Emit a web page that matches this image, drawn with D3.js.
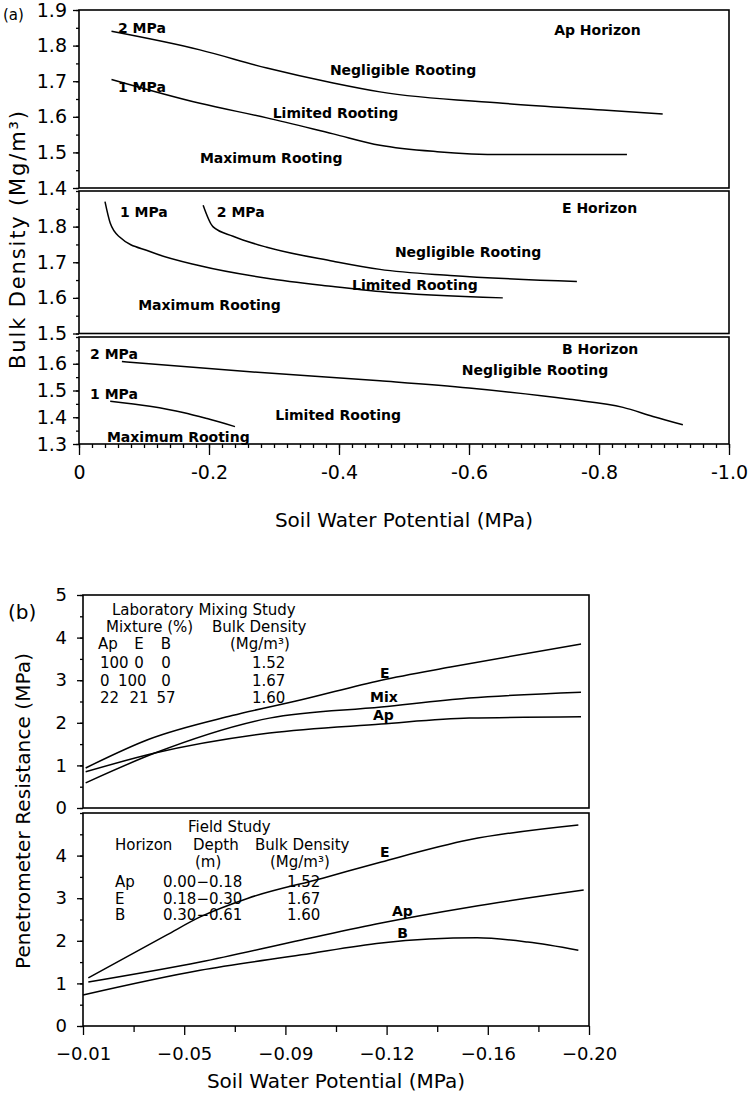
<!DOCTYPE html>
<html>
<head>
<meta charset="utf-8">
<script src="https://cdn.jsdelivr.net/npm/d3@7"></script>
<style>
  body { margin: 0; background: #fff; }
  svg text { font-family: "DejaVu Sans", sans-serif; fill: #000; }
</style>
</head>
<body>
<svg id="chart" width="754" height="1094"></svg>
<script>
// ---- values ----
// (a) bulk density (Mg/m3) at which penetrometer resistance reaches 1 / 2 MPa, vs soil water potential (MPa)
const apLimit2MPa = [[-0.05, 1.84], [-0.186, 1.788], [-0.289, 1.737], [-0.391, 1.695], [-0.463, 1.670], [-0.652, 1.638], [-0.806, 1.619], [-0.898, 1.608]];
const apLimit1MPa = [[-0.05, 1.705], [-0.186, 1.638], [-0.289, 1.597], [-0.391, 1.552], [-0.463, 1.520], [-0.551, 1.502], [-0.652, 1.494], [-0.843, 1.494]];
const eLimit1MPa = [[-0.04, 1.87], [-0.048, 1.81], [-0.063, 1.77], [-0.109, 1.73], [-0.186, 1.69], [-0.289, 1.655], [-0.391, 1.632], [-0.463, 1.618], [-0.652, 1.60]];
const eLimit2MPa = [[-0.191, 1.86], [-0.206, 1.80], [-0.237, 1.773], [-0.289, 1.742], [-0.391, 1.703], [-0.463, 1.68], [-0.571, 1.663], [-0.766, 1.646]];
const bLimit2MPa = [[-0.066, 1.608], [-0.263, 1.57], [-0.463, 1.536], [-0.6, 1.509], [-0.755, 1.467], [-0.837, 1.437], [-0.883, 1.403], [-0.929, 1.372]];
const bLimit1MPa = [[-0.048, 1.46], [-0.109, 1.441], [-0.16, 1.418], [-0.197, 1.395], [-0.24, 1.365]];

// (b) penetrometer resistance (MPa) vs soil water potential (MPa)
const labE   = [[-0.011, 0.94], [-0.035, 1.62], [-0.066, 2.17], [-0.092, 2.54], [-0.122, 3.0], [-0.148, 3.31], [-0.197, 3.85]];
const labMix = [[-0.011, 0.59], [-0.037, 1.29], [-0.080, 2.11], [-0.122, 2.37], [-0.155, 2.58], [-0.197, 2.72]];
const labAp  = [[-0.011, 0.85], [-0.037, 1.29], [-0.080, 1.76], [-0.122, 1.97], [-0.155, 2.11], [-0.197, 2.14]];
const fieldE  = [[-0.012, 1.13], [-0.0415, 2.14], [-0.054, 2.56], [-0.072, 3.0], [-0.100, 3.47], [-0.122, 3.85], [-0.155, 4.37], [-0.196, 4.72]];
const fieldAp = [[-0.012, 1.03], [-0.054, 1.50], [-0.092, 2.02], [-0.122, 2.42], [-0.155, 2.79], [-0.198, 3.19]];
const fieldB  = [[-0.010, 0.73], [-0.054, 1.31], [-0.092, 1.67], [-0.122, 1.95], [-0.140, 2.04], [-0.158, 2.07], [-0.177, 1.97], [-0.196, 1.78]];

// tick values
const psiTicksA = [0, -0.2, -0.4, -0.6, -0.8, -1.0];
const apTicks = [1.4, 1.5, 1.6, 1.7, 1.8, 1.9];
const eTicks = [1.5, 1.6, 1.7, 1.8];
const bTicks = [1.3, 1.4, 1.5, 1.6];
const psiTicksB = d3.range(11).map(i => -0.01 - i * 0.019);
const labTicks = [0, 1, 2, 3, 4, 5];
const fieldTicks = [0, 1, 2, 3, 4];

// in-plot labels: [text, psi, value]
const apNotes = [["2 MPa", -0.06, 1.835], ["1 MPa", -0.06, 1.67], ["Ap Horizon", -0.731, 1.83],
  ["Negligible Rooting", -0.386, 1.717], ["Limited Rooting", -0.298, 1.597], ["Maximum Rooting", -0.186, 1.47]];
const eNotes = [["1 MPa", -0.063, 1.828], ["2 MPa", -0.212, 1.828], ["E Horizon", -0.743, 1.837],
  ["Negligible Rooting", -0.486, 1.715], ["Limited Rooting", -0.42, 1.623], ["Maximum Rooting", -0.091, 1.566]];
const bNotes = [["2 MPa", -0.017, 1.616], ["1 MPa", -0.017, 1.467], ["B Horizon", -0.743, 1.638],
  ["Negligible Rooting", -0.589, 1.559], ["Limited Rooting", -0.302, 1.391], ["Maximum Rooting", -0.043, 1.308]];
const labNotes = [["E", -0.1215, 3.05], ["Mix", -0.1178, 2.49], ["Ap", -0.1189, 2.07]];
const fieldNotes = [["E", -0.1215, 3.97], ["Ap", -0.126, 2.58], ["B", -0.128, 2.07]];

// tables
const labHeader = ["Ap", "E", "B"];
const labMixture = [[100, 0, 0], [0, 100, 0], [22, 21, 57]];
const labDensity = ["1.52", "1.67", "1.60"];
const fieldHorizon = ["Ap", "E", "B"];
const fieldDepth = ["0.00\u22120.18", "0.18\u22120.30", "0.30\u22120.61"];
const fieldDensity = ["1.52", "1.67", "1.60"];

const svg = d3.select("#chart");

// scales
const xA = d3.scaleLinear().domain([0, -1]).range([79, 729]);
const yAp = d3.scaleLinear().domain([1.4, 1.9]).range([188, 10]);
const yE = d3.scaleLinear().domain([1.5, 1.9]).range([333.5, 191]);
const yB = d3.scaleLinear().domain([1.3, 1.7]).range([444, 337]);

const xB = d3.scaleLinear().domain([-0.01, -0.20]).range([83, 589]);
const yLab = d3.scaleLinear().domain([0, 5]).range([808, 595]);
const yField = d3.scaleLinear().domain([0, 5]).range([1026, 813]);

function frame(x, y) {
    const [x0, x1] = x.range();
    const [y0, y1] = y.range();
    svg.append("rect")
        .attr("x", x0).attr("y", y1)
        .attr("width", x1 - x0).attr("height", y0 - y1)
        .attr("fill", "none").attr("stroke", "#000").attr("stroke-width", 1.6);
}

function styleAxis(g, size) {
    g.select(".domain").remove();
    g.attr("font-family", "DejaVu Sans, sans-serif").attr("font-size", size);
    g.selectAll("line").attr("stroke", "#000").attr("stroke-width", 1.3);
    g.selectAll("text").attr("fill", "#000");
}

function leftAxis(x, y, major, fontSize, pad) {
    const x0 = x.range()[0];
    const [lo, hi] = y.domain();
    const step = (major[1] - major[0]) / 2;
    const minor = d3.range(Math.round((hi - lo) / step) + 1).map(i => lo + i * step);
    svg.append("g").attr("transform", `translate(${x0},0)`)
        .call(d3.axisLeft(y).tickValues(minor).tickSize(3).tickFormat(""))
        .call(g => styleAxis(g, fontSize));
    svg.append("g").attr("transform", `translate(${x0},0)`)
        .call(d3.axisLeft(y).tickValues(major).tickSize(6).tickPadding(pad).tickFormat(d3.format(major[1] - major[0] < 1 ? ".1f" : "d")))
        .call(g => styleAxis(g, fontSize));
}

function curve(x, y, data) {
    svg.append("path")
        .datum(data)
        .attr("fill", "none").attr("stroke", "#000").attr("stroke-width", 1.5)
        .attr("d", d3.line().x(d => x(d[0])).y(d => y(d[1])).curve(d3.curveMonotoneX));
}

function notes(x, y, list, size, weight) {
    svg.append("g").selectAll("text")
        .data(list).join("text")
        .attr("x", d => x(d[1])).attr("y", d => y(d[2]))
        .attr("font-size", size).attr("font-weight", weight)
        .text(d => d[0]);
}

/* ------- (a) bulk density panels ------- */
frame(xA, yAp);
frame(xA, yE);
frame(xA, yB);
leftAxis(xA, yAp, apTicks, 19, 6);
leftAxis(xA, yE, eTicks, 19, 6);
leftAxis(xA, yB, bTicks, 19, 6);

svg.append("g").attr("transform", "translate(0,444)")
    .call(d3.axisBottom(xA).tickValues(d3.range(51).map(i => -i * 0.02)).tickSize(4).tickFormat(""))
    .call(g => styleAxis(g, 19));
svg.append("g").attr("transform", "translate(0,444)")
    .call(d3.axisBottom(xA).tickValues(psiTicksA).tickSize(11).tickPadding(11)
        .tickFormat(d => d === 0 ? "0" : "-" + (-d).toFixed(1)))
    .call(g => styleAxis(g, 19));

curve(xA, yAp, apLimit2MPa);
curve(xA, yAp, apLimit1MPa);
curve(xA, yE, eLimit1MPa);
curve(xA, yE, eLimit2MPa);
curve(xA, yB, bLimit2MPa);
curve(xA, yB, bLimit1MPa);

notes(xA, yAp, apNotes, 14, "bold");
notes(xA, yE, eNotes, 14, "bold");
notes(xA, yB, bNotes, 14, "bold");

svg.append("text").attr("x", 3).attr("y", 20).attr("font-size", 15).text("(a)");
svg.append("text").attr("x", 404).attr("y", 527).attr("text-anchor", "middle")
    .attr("font-size", 20).text("Soil Water Potential (MPa)");
svg.append("text").attr("transform", "translate(25,240) rotate(-90)").attr("text-anchor", "middle")
    .attr("font-size", 21).attr("textLength", 258).attr("lengthAdjust", "spacing")
    .text("Bulk Density (Mg/m\u00b3)");

/* ------- (b) penetrometer resistance panels ------- */
frame(xB, yLab);
frame(xB, yField);
leftAxis(xB, yLab, labTicks, 18, 10);
leftAxis(xB, yField, fieldTicks, 18, 10);

svg.append("g").attr("transform", "translate(0,1026)")
    .call(d3.axisBottom(xB).tickValues(psiTicksB.filter((d, i) => i % 2)).tickSize(6).tickFormat(""))
    .call(g => styleAxis(g, 18));
svg.append("g").attr("transform", "translate(0,1026)")
    .call(d3.axisBottom(xB).tickValues(psiTicksB.filter((d, i) => i % 2 === 0)).tickSize(9).tickPadding(12)
        .tickFormat(d3.format(".2f")))
    .call(g => styleAxis(g, 18));

curve(xB, yLab, labE);
curve(xB, yLab, labMix);
curve(xB, yLab, labAp);
curve(xB, yField, fieldE);
curve(xB, yField, fieldAp);
curve(xB, yField, fieldB);

notes(xB, yLab, labNotes, 14, "bold");
notes(xB, yField, fieldNotes, 14, "bold");

// laboratory table
const lab = svg.append("g").attr("font-size", 15);
lab.append("text").attr("x", 112).attr("y", 615).text("Laboratory Mixing Study");
lab.append("text").attr("x", 106).attr("y", 632).text("Mixture (%)");
lab.append("text").attr("x", 212).attr("y", 632).text("Bulk Density");
const labCols = [108, 139, 166];
labHeader.forEach((h, j) => {
    lab.append("text").attr("x", labCols[j]).attr("y", 649).attr("text-anchor", "middle").text(h);
});
lab.append("text").attr("x", 230).attr("y", 649).text("(Mg/m\u00b3)");
labMixture.forEach((row, i) => {
    const yy = 668 + i * 17.5;
    lab.append("text").attr("x", 100).attr("y", yy).text(row[0]);
    lab.append("text").attr("x", labCols[1] - 5).attr("y", yy).attr("text-anchor", row[1] === 100 ? "start" : "middle")
        .attr("dx", row[1] === 100 ? -16 : 5).text(row[1]);
    lab.append("text").attr("x", labCols[2]).attr("y", yy).attr("text-anchor", "middle").text(row[2]);
    lab.append("text").attr("x", 252).attr("y", yy).text(labDensity[i]);
});

// field table
const field = svg.append("g").attr("font-size", 15);
field.append("text").attr("x", 188).attr("y", 832).text("Field Study");
field.append("text").attr("x", 115).attr("y", 850).text("Horizon");
field.append("text").attr("x", 193).attr("y", 850).text("Depth");
field.append("text").attr("x", 255).attr("y", 850).text("Bulk Density");
field.append("text").attr("x", 195).attr("y", 867).text("(m)");
field.append("text").attr("x", 270).attr("y", 867).text("(Mg/m\u00b3)");
fieldHorizon.forEach((h, i) => {
    const yy = 887 + i * 16.5;
    field.append("text").attr("x", 115).attr("y", yy).text(h);
    field.append("text").attr("x", 163).attr("y", yy).text(fieldDepth[i]);
    field.append("text").attr("x", 287).attr("y", yy).text(fieldDensity[i]);
});

svg.append("text").attr("x", 8).attr("y", 619).attr("font-size", 20).text("(b)");
svg.append("text").attr("x", 336).attr("y", 1088).attr("text-anchor", "middle")
    .attr("font-size", 20).text("Soil Water Potential (MPa)");
svg.append("text").attr("transform", "translate(30,811) rotate(-90)").attr("text-anchor", "middle")
    .attr("font-size", 20).attr("textLength", 316).attr("lengthAdjust", "spacing")
    .text("Penetrometer Resistance (MPa)");
</script>
</body>
</html>
